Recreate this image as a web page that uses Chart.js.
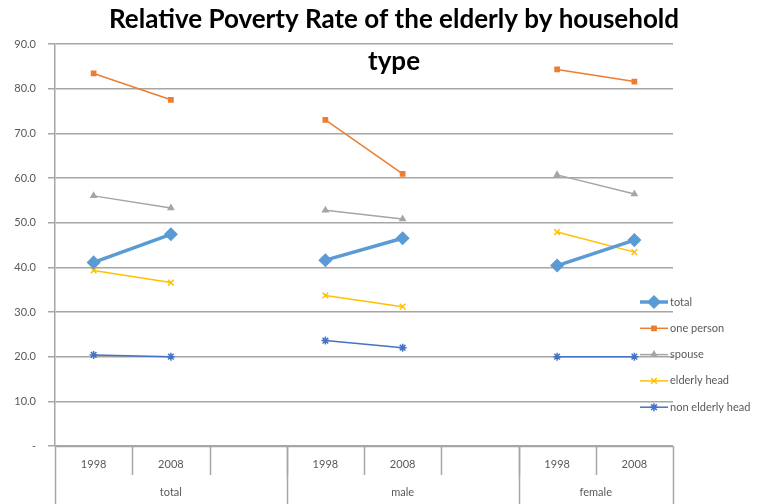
<!DOCTYPE html>
<html>
<head>
<meta charset="utf-8">
<script src="https://cdn.jsdelivr.net/npm/chart.js@4/dist/chart.umd.min.js"></script>
<style>
  html, body { margin: 0; padding: 0; background: #fff; }
  #wrap { width: 773px; height: 504px; }
</style>
</head>
<body>
<div id="wrap"><canvas id="povertyChart" width="773" height="504"></canvas></div>
<script>
// Chart data
const years = ['1998', '2008', '', '1998', '2008', '', '1998', '2008'];
const groups = ['total', 'male', 'female'];
const groupSpans = [3, 3, 2];

const totalRate = [41.1, 47.4, null, 41.6, 46.5, null, 40.4, 46.1];
const onePerson = [83.4, 77.5, null, 73.0, 60.9, null, 84.3, 81.6];
const spouse = [56.0, 53.3, null, 52.8, 50.8, null, 60.7, 56.4];
const elderlyHead = [39.3, 36.6, null, 33.7, 31.2, null, 47.9, 43.4];
const nonElderlyHead = [20.4, 20.0, null, 23.6, 22.0, null, 20.0, 20.0];

const titleLines = ['Relative Poverty Rate of the elderly by household', 'type'];
const yTicks = [0, 10, 20, 30, 40, 50, 60, 70, 80, 90];

const FONT = 'Lato, "Open Sans", sans-serif';
const TEXT_GRAY = '#595959';
const LINE_GRAY = '#a6a6a6';

// Title drawn on top of the plot (the second line sits inside the plot area)
const titlePlugin = {
    id: 'titleText',
    afterDraw(chart) {
        const ctx = chart.ctx;
        ctx.save();
        ctx.fillStyle = '#000';
        ctx.textAlign = 'center';
        ctx.textBaseline = 'middle';
        // fit first line to ~571px like the original
        let size = 22;
        ctx.font = 'bold ' + size + 'px ' + FONT;
        const w = ctx.measureText(titleLines[0]).width;
        size = size * 571 / w;
        ctx.font = 'bold ' + size.toFixed(1) + 'px ' + FONT;
        ctx.fillText(titleLines[0], 394, 20);
        ctx.fillText(titleLines[1], 394, 62);
        ctx.restore();
    }
};

// Two-level category table under the plot
const categoryTablePlugin = {
    id: 'categoryTable',
    afterDraw(chart) {
        const ctx = chart.ctx;
        const x = chart.scales.x;
        const area = chart.chartArea;
        const step = (area.right - area.left) / years.length;
        const top = area.bottom;
        ctx.save();
        ctx.strokeStyle = LINE_GRAY;
        ctx.lineWidth = 1.5;
        ctx.beginPath();
        ctx.moveTo(area.left, top + 0.5);
        ctx.lineTo(area.right, top + 0.5);
        ctx.stroke();

        // short separators between every category
        for (let i = 1; i < years.length; i++) {
            const bx = Math.round(area.left + step * i) + 0.5;
            ctx.beginPath();
            ctx.moveTo(bx, top);
            ctx.lineTo(bx, top + 29);
            ctx.stroke();
        }
        // long separators at group edges
        let idx = 0;
        const edges = [0];
        groupSpans.forEach(s => { idx += s; edges.push(idx); });
        edges.forEach(e => {
            const bx = Math.round(area.left + step * e) + 0.5;
            ctx.beginPath();
            ctx.moveTo(bx, top);
            ctx.lineTo(bx, chart.height);
            ctx.stroke();
        });

        ctx.fillStyle = TEXT_GRAY;
        ctx.font = '11px ' + FONT;
        ctx.textAlign = 'center';
        ctx.textBaseline = 'middle';
        years.forEach((y, i) => {
            if (y) ctx.fillText(y, x.getPixelForValue(i), top + 18);
        });
        groups.forEach((g, i) => {
            const cx = area.left + step * (edges[i] + edges[i + 1]) / 2;
            ctx.fillText(g, cx, top + 46);
        });
        ctx.restore();
    }
};

// Legend placed over the right side of the plot
const legendPlugin = {
    id: 'sideLegend',
    afterDraw(chart) {
        const ctx = chart.ctx;
        const startY = 302;
        const gap = 26.3;
        ctx.save();
        chart.data.datasets.forEach((ds, i) => {
            const y = startY + gap * i;
            ctx.strokeStyle = ds.borderColor;
            ctx.lineWidth = ds.borderWidth;
            ctx.beginPath();
            ctx.moveTo(640, y);
            ctx.lineTo(668, y);
            ctx.stroke();
            ctx.fillStyle = ds.pointBackgroundColor;
            ctx.strokeStyle = ds.pointBorderColor;
            ctx.lineWidth = ds.pointBorderWidth;
            Chart.helpers.drawPoint(ctx, {
                pointStyle: ds.pointStyle,
                radius: ds.pointRadius,
                borderWidth: ds.pointBorderWidth,
                rotation: 0
            }, 654, y);
            ctx.fillStyle = TEXT_GRAY;
            ctx.font = '11px ' + FONT;
            ctx.textAlign = 'left';
            ctx.textBaseline = 'middle';
            ctx.fillText(ds.label, 670, y);
        });
        ctx.restore();
    }
};

function series(label, data, color, style, radius, width) {
    return {
        label: label,
        data: data,
        borderColor: color,
        backgroundColor: color,
        pointBackgroundColor: color,
        pointBorderColor: color,
        pointBorderWidth: 1.5,
        pointStyle: style,
        pointRadius: radius,
        borderWidth: width,
        spanGaps: false,
        tension: 0
    };
}

const ctx = document.getElementById('povertyChart').getContext('2d');
new Chart(ctx, {
    type: 'line',
    data: {
        labels: years,
        datasets: [
            series('total', totalRate, '#5b9bd5', 'rectRot', 6, 3.5),
            series('one person', onePerson, '#ed7d31', 'rect', 3, 1.5),
            series('spouse', spouse, '#a5a5a5', 'triangle', 3, 1.5),
            series('elderly head', elderlyHead, '#ffc000', 'crossRot', 4, 1.5),
            series('non elderly head', nonElderlyHead, '#4472c4', 'star', 4, 1.5)
        ]
    },
    options: {
        responsive: false,
        animation: false,
        layout: {
            padding: { top: 44, right: 100, left: 0, bottom: 0 }
        },
        scales: {
            x: {
                type: 'category',
                offset: true,
                grid: { display: false },
                border: { display: false },
                ticks: { display: false },
                afterFit(scale) { scale.height = 58; }
            },
            y: {
                min: 0,
                max: 90,
                afterBuildTicks(scale) {
                    scale.ticks = yTicks.map(v => ({ value: v }));
                },
                afterFit(scale) { scale.width = 55; },
                grid: {
                    color: LINE_GRAY,
                    lineWidth: 1.5,
                    tickLength: 7,
                    drawTicks: true
                },
                border: { color: LINE_GRAY, width: 1.5 },
                ticks: {
                    padding: 12,
                    color: TEXT_GRAY,
                    font: { family: FONT, size: 11 },
                    callback: v => (v === 0 ? '-' : v.toFixed(1))
                }
            }
        },
        plugins: {
            legend: { display: false },
            title: { display: false },
            tooltip: { enabled: false }
        }
    },
    plugins: [titlePlugin, categoryTablePlugin, legendPlugin]
});
</script>
</body>
</html>
